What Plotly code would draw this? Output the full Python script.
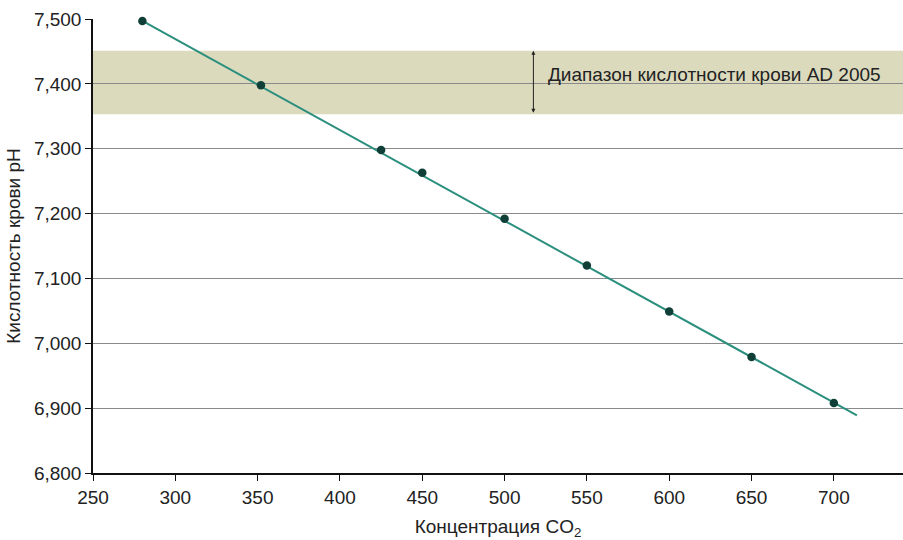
import plotly.graph_objects as go

co2 = [280, 352, 425, 450, 500, 550, 600, 650, 700]
ph = [7.497, 7.398, 7.298, 7.263, 7.192, 7.120, 7.049, 6.979, 6.908]
trend_x = [280, 714]
trend_y = [7.497, 6.889]
band = [7.353, 7.451]
y_ticks = [6.8, 6.9, 7.0, 7.1, 7.2, 7.3, 7.4, 7.5]
x_ticks = [250, 300, 350, 400, 450, 500, 550, 600, 650, 700]

FONT = "Liberation Sans, Arial, sans-serif"

fig = go.Figure()
fig.add_trace(go.Scatter(x=trend_x, y=trend_y, mode="lines", cliponaxis=False,
                         line=dict(color="#2b8f7e", width=2), showlegend=False, hoverinfo="skip"))
fig.add_trace(go.Scatter(x=co2, y=ph, mode="markers", cliponaxis=False,
                         marker=dict(color="#0f3f37", size=8.5), showlegend=False))

fig.add_shape(type="rect", xref="paper", yref="y", x0=0, x1=1, y0=band[0], y1=band[1],
              fillcolor="#dcdabd", line_width=0, layer="below")

fig.add_annotation(x=517.5, y=band[1], ax=517.5, ay=band[0], xref="x", yref="y", axref="x", ayref="y",
                   text="", showarrow=True, arrowside="end+start", arrowhead=2, arrowsize=0.8,
                   arrowwidth=1, arrowcolor="#222")
fig.add_annotation(x=525, y=7.414, xref="x", yref="y", text="Диапазон кислотности крови AD 2005",
                   showarrow=False, xanchor="left", yanchor="middle",
                   font=dict(family=FONT, size=19, color="#222"))

fig.update_layout(
    width=903, height=540,
    margin=dict(l=93, r=0, t=19, b=67),
    plot_bgcolor="white", paper_bgcolor="white",
    separators=", ",
    font=dict(family=FONT, size=19, color="#222"),
    xaxis=dict(range=[250, 742], tickvals=x_ticks, showgrid=False, showline=True, linecolor="#111",
               linewidth=1.5, ticks="outside", ticklen=6, tickcolor="#111", zeroline=False,
               automargin=True,
               title=dict(text="Концентрация CO<sub>2</sub>", standoff=13, font=dict(size=19))),
    yaxis=dict(range=[6.8, 7.5], tickvals=y_ticks, tickformat=".3f", showgrid=True, gridcolor="#8a8a8a",
               gridwidth=1, showline=True, linecolor="#111", linewidth=1.5, ticks="outside", ticklen=6,
               tickcolor="#111", zeroline=False, automargin=False,
               title=dict(text="Кислотность крови pH", standoff=8, font=dict(size=19))),
)

post = ("document.body.style.margin='0px';"
        "var gd=document.getElementById('{plot_id}');"
        "Plotly.relayout(gd,{width:903,height:540});")
fig.write_html("out.html", post_script=post, config={"displayModeBar": False})
